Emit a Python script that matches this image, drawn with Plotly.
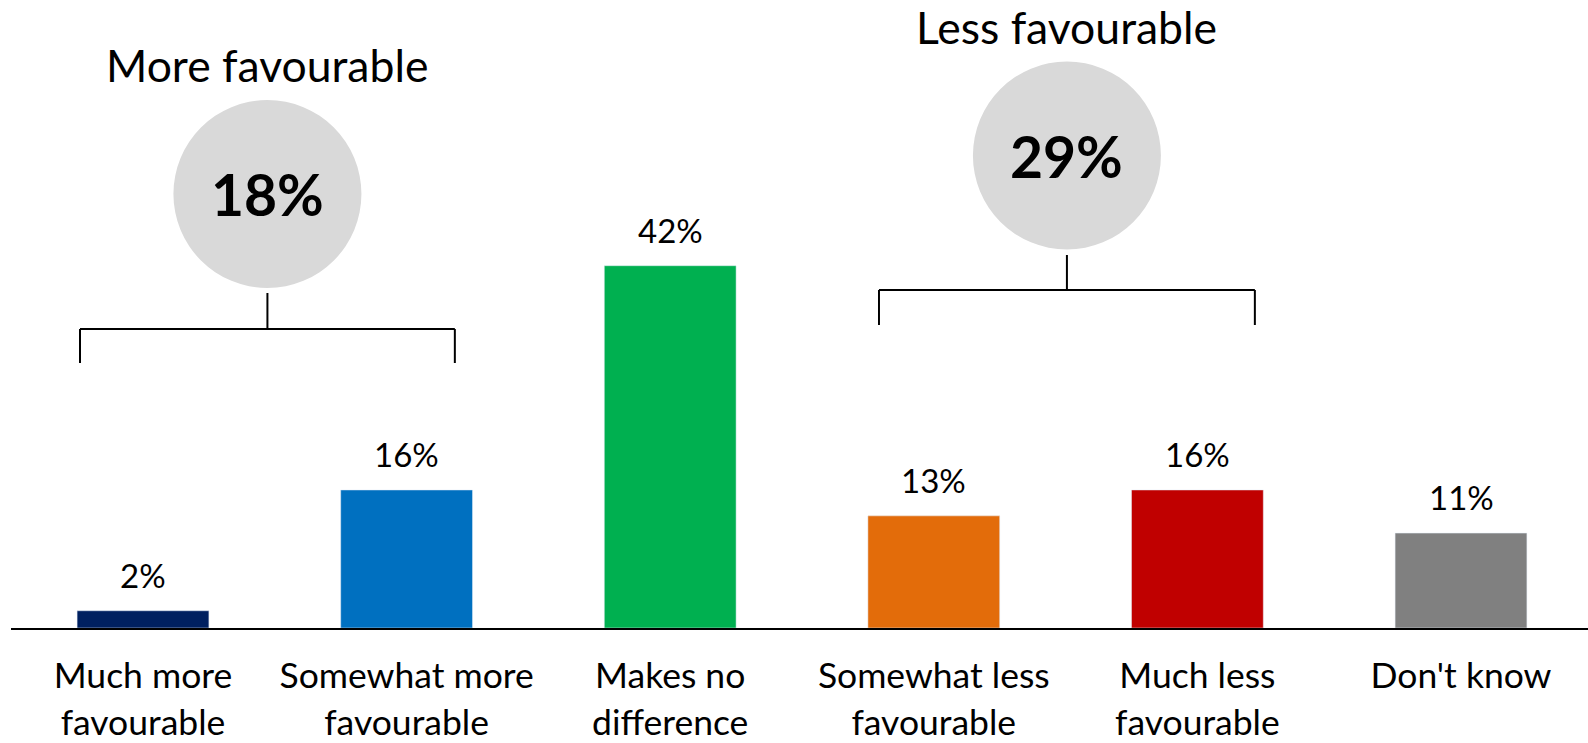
import plotly.graph_objects as go

# ---- data ----
categories = ["Much more<br>favourable", "Somewhat more<br>favourable", "Makes no<br>difference",
              "Somewhat less<br>favourable", "Much less<br>favourable", "Don't know"]
values = [2, 16, 42, 13, 16, 11]
value_labels = ["2%", "16%", "42%", "13%", "16%", "11%"]
bar_colors = ["#002060", "#0070C0", "#00B050", "#E36C0A", "#C00000", "#808080"]

group_titles = ["More favourable", "Less favourable"]
group_totals = ["18%", "29%"]
group_members = [(0, 1), (3, 4)]

FONT = "Lato, Carlito, Calibri, sans-serif"

W, H = 1588, 743
ML, MR, MT, MB = 11, 0, 0, 115
plot_w = W - ML - MR
plot_h = H - MT - MB
px_per_cat = 263.6
x0 = -(143 - ML) / px_per_cat
x1 = x0 + plot_w / px_per_cat
px_per_pct = 8.626
y_top = plot_h / px_per_pct


def ydat(px):
    return (plot_h + MT - px) / px_per_pct


fig = go.Figure()
fig.add_trace(go.Bar(
    x=list(range(len(categories))), y=values, marker_color=bar_colors,
    width=0.5, hoverinfo="skip", showlegend=False,
))

# value labels above bars
for i, (v, lab) in enumerate(zip(values, value_labels)):
    fig.add_annotation(x=i, y=v, text=lab, showarrow=False, xref="x", yref="y",
                       yanchor="middle", yshift=36,
                       font=dict(family=FONT, size=33, color="black"))

# group brackets, circles, titles (pixel positions of the decoration)
group_style = [
    dict(h=329, leg=363, stem=293, cy=194, ty=64, l_off=0.011, r_off=-0.067),
    dict(h=290, leg=325, stem=255, cy=155.5, ty=26, l_off=0.042, r_off=-0.032),
]
R = 94
for (a, b), title, tot, st in zip(group_members, group_titles, group_totals, group_style):
    xl = a - 0.25 + st["l_off"]
    xr = b + 0.25 + st["r_off"]
    xm = (xl + xr) / 2
    line = dict(color="black", width=2)
    fig.add_shape(type="line", x0=xl, x1=xr, y0=ydat(st["h"]), y1=ydat(st["h"]), line=line)
    fig.add_shape(type="line", x0=xl, x1=xl, y0=ydat(st["h"]), y1=ydat(st["leg"]), line=line)
    fig.add_shape(type="line", x0=xr, x1=xr, y0=ydat(st["h"]), y1=ydat(st["leg"]), line=line)
    fig.add_shape(type="line", x0=xm, x1=xm, y0=ydat(st["h"]), y1=ydat(st["stem"]), line=line)
    fig.add_shape(type="circle", xsizemode="pixel", ysizemode="pixel",
                  xanchor=xm, yanchor=ydat(st["cy"]), x0=-R, x1=R, y0=-R, y1=R,
                  fillcolor="#D9D9D9", line=dict(width=0), layer="below")
    fig.add_annotation(x=xm, y=ydat(st["cy"]), text="<b>" + tot + "</b>", showarrow=False,
                       yanchor="middle", font=dict(family=FONT, size=57, color="black"))
    fig.add_annotation(x=xm, y=ydat(st["ty"]), text=title, showarrow=False,
                       yanchor="middle", font=dict(family=FONT, size=44.5, color="black"))

fig.update_layout(
    width=W, height=H, margin=dict(l=ML, r=MR, t=MT, b=MB),
    paper_bgcolor="white", plot_bgcolor="white",
    xaxis=dict(range=[x0, x1], tickmode="array", tickvals=list(range(len(categories))),
               ticktext=categories, showline=True, linecolor="black", linewidth=1.5,
               showgrid=False, zeroline=False, ticks="", ticklabelstandoff=16,
               tickfont=dict(family=FONT, size=35.5, color="black"), fixedrange=True,
               automargin=False),
    yaxis=dict(range=[0, y_top], visible=False, showgrid=False, zeroline=False, fixedrange=True),
)

fig.write_html("out.html", config={"displayModeBar": False},
               post_script="document.body.style.margin='0';document.body.style.overflow='hidden';")
